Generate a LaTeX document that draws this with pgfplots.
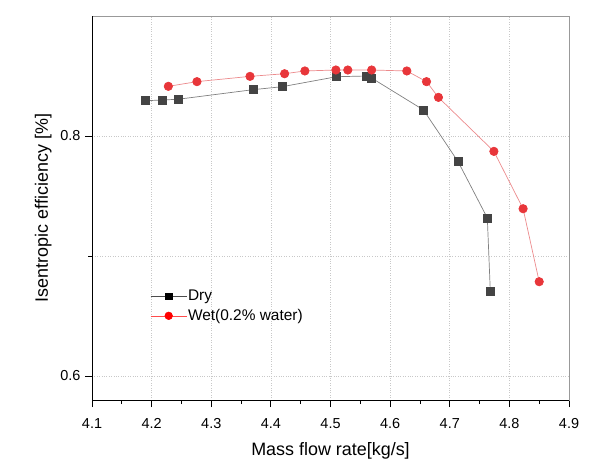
\documentclass[border=0pt]{standalone}
\usepackage{pgfplots}
\pgfplotsset{compat=1.18}
\usepackage{fontspec}
\setmainfont{Liberation Sans}

\definecolor{drymark}{HTML}{444444}
\definecolor{dryline}{HTML}{808080}
\definecolor{wetmark}{HTML}{E8363A}
\definecolor{wetline}{HTML}{EC8A8C}
\definecolor{gridc}{HTML}{C8C8C8}

\begin{document}
\begin{tikzpicture}[x=1bp,y=1bp]
\begin{axis}[
  name=ax,
  scale only axis,
  width=477bp, height=384bp,
  xmin=4.1, xmax=4.9,
  ymin=0.58, ymax=0.9,
  xtick={4.1,4.2,...,4.91},
  minor x tick num=1,
  ytick={0.6,0.8},
  minor ytick={0.7},
  tick align=outside,
  xtick pos=left, ytick pos=left,
  major tick length=7bp, minor tick length=4bp,
  every tick/.style={black, line width=0.8bp},
  xmajorgrids, ymajorgrids, yminorgrids,
  grid style={gridc, dotted, line width=0.6bp},
  minor grid style={gridc, dotted, line width=0.6bp},
  axis line style={gray!80, line width=0.8bp},
  /pgf/number format/assume math mode=true,
  xticklabel style={/pgf/number format/fixed, /pgf/number format/fixed zerofill, /pgf/number format/precision=1, font=\fontsize{14.5}{17}\selectfont, yshift=-8bp},
  yticklabel style={/pgf/number format/fixed, /pgf/number format/fixed zerofill, /pgf/number format/precision=1, font=\fontsize{14.5}{17}\selectfont, xshift=-1bp},
  xlabel={Mass flow rate[kg/s]},
  ylabel={Isentropic efficiency [\%]},
  label style={font=\fontsize{18}{21}\selectfont},
  xlabel style={yshift=-7bp},
  ylabel style={yshift=2bp},
  legend style={at={(axis description cs:0.122,0.29)}, anchor=north west, draw=none, fill=none,
    font=\fontsize{15.5}{18}\selectfont, row sep=5.5bp, inner sep=0pt,
    nodes={inner sep=1bp}},
  legend cell align=left,
  legend image code/.code={
    \draw[mark repeat=2, mark phase=2, #1] plot coordinates {(0bp,0bp) (18bp,0bp) (36bp,0bp)};
  },
]
% frame: dark left and bottom spines
\draw[black, line width=0.9bp] (rel axis cs:0,1) -- (rel axis cs:0,0) -- (rel axis cs:1,0);

\addplot[dryline, line width=0.7bp, mark=square*, mark size=4bp,
  mark options={fill=drymark, draw=drymark}, forget plot] coordinates {
  (4.189,0.8294) (4.218,0.8300) (4.244,0.8306) (4.370,0.8386) (4.419,0.8411)
  (4.510,0.8494) (4.560,0.8500) (4.569,0.8483) (4.656,0.8217) (4.714,0.7786)
  (4.763,0.7317) (4.768,0.6708)
};
\addplot[wetline, line width=0.7bp, mark=*, mark size=4.2bp,
  mark options={fill=wetmark, draw=wetmark}, forget plot] coordinates {
  (4.228,0.8414) (4.276,0.8453) (4.365,0.8497) (4.423,0.8519) (4.457,0.8542)
  (4.509,0.8550) (4.529,0.8550) (4.569,0.8550) (4.628,0.8542) (4.661,0.8453)
  (4.681,0.8322) (4.774,0.7872) (4.823,0.7394) (4.850,0.6786)
};
\addlegendimage{black!70, line width=0.6bp, mark=square*, mark size=3.1bp, mark options={fill=black, draw=black}}
\addlegendentry{Dry}
\addlegendimage{red!70!white, line width=0.6bp, mark=*, mark size=3.8bp, mark options={fill=red, draw=red}}
\addlegendentry{Wet(0.2\% water)}

\coordinate (bbl) at (rel axis cs:-0.1929,-0.1823);
\coordinate (btr) at (rel axis cs:1.0419,1.0417);
\end{axis}
\pgfresetboundingbox
\path[use as bounding box] (bbl) rectangle (btr);
\end{tikzpicture}
\end{document}
